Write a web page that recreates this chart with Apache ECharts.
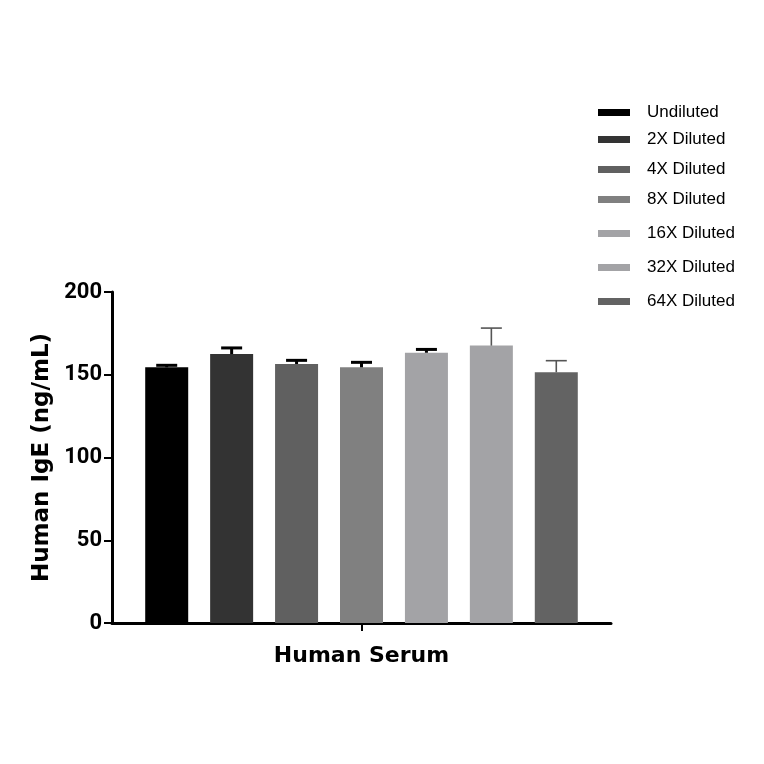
<!DOCTYPE html>
<html><head><meta charset="utf-8">
<script src="https://cdn.jsdelivr.net/npm/echarts@6/dist/echarts.min.js"></script>
<style>html,body{margin:0;padding:0;background:#fff}#c{width:764px;height:764px}</style>
</head><body><div id="c"></div>
<script>
const categories = ['Human Serum'];
const seriesNames = ['Undiluted','2X Diluted','4X Diluted','8X Diluted','16X Diluted','32X Diluted','64X Diluted'];
const means = [154.5, 162.5, 156.5, 154.5, 163.3, 167.6, 151.5];
const errors = [1.2, 3.7, 2.2, 3.0, 2.0, 10.6, 7.0];
const yTicks = [0, 50, 100, 150, 200];
const colors = ['#000000','#333333','#606060','#808080','#a3a3a6','#a3a3a6','#636363'];
const errColors = ['#000','#000','#000','#000','#000','#555','#555'];
const errWidths = [3,3,3,3,3,1.6,1.6];
const legendTops = [99, 126, 156, 186, 220, 254, 288];

const barWidth = 43, barGapRatio = 0.51;
const chart = echarts.init(document.getElementById('c'));
const series = [];
seriesNames.forEach((n,i)=>{
  series.push({name:n,type:'bar',data:[means[i]],barWidth:barWidth,barGap:(barGapRatio*100)+'%',
    itemStyle:{color:colors[i]},z:2});
});
seriesNames.forEach((n,i)=>{
  series.push({type:'custom',z:3,silent:true,
    data:[[0,means[i],errors[i]]],
    renderItem:function(params,api){
      const p0 = api.coord([api.value(0), api.value(1)]);
      const p1 = api.coord([api.value(0), api.value(1)+api.value(2)]);
      const x = p0[0] + (i-3)*barWidth*(1+barGapRatio);
      const half = 10.5;
      const st = {stroke:errColors[i],lineWidth:errWidths[i]};
      return {type:'group',children:[
        {type:'line',shape:{x1:x,y1:p0[1],x2:x,y2:p1[1]},style:st},
        {type:'line',shape:{x1:x-half,y1:p1[1],x2:x+half,y2:p1[1]},style:st}
      ]};
    }});
});
const legends = seriesNames.map((n,i)=>({
  data:[n], orient:'vertical', left:593, top:legendTops[i],
  itemWidth:32, itemHeight:7, icon:'rect', itemGap:0,
  textStyle:{fontFamily:'Liberation Sans',fontSize:17,color:'#000',padding:[0,0,0,12]}
}));
chart.setOption({
  animation:false,
  legend:legends,
  grid:{left:112,right:153,top:292,bottom:141},
  xAxis:{type:'category',data:categories,
    axisLine:{lineStyle:{color:'#000',width:3}},
    axisTick:{show:true,alignWithLabel:true,length:8,lineStyle:{width:2,color:'#000'}},
    axisLabel:{show:true,formatter:()=>''},
    name:categories[0],nameLocation:'middle',nameGap:22,
    nameTextStyle:{fontFamily:'DejaVu Sans',fontWeight:'bold',fontSize:22,color:'#000'}},
  yAxis:{type:'value',min:0,max:200,interval:50,
    axisLine:{show:true,lineStyle:{color:'#000',width:3}},
    axisTick:{show:true,length:8,lineStyle:{width:2,color:'#000'}},
    splitLine:{show:false},
    axisLabel:{fontFamily:'Roboto',fontWeight:'bold',fontSize:22,color:'#000',margin:10,
      formatter:v=>yTicks.includes(v)?String(v):''},
    name:'Human IgE (ng/mL)',nameLocation:'middle',nameGap:58,
    nameTextStyle:{fontFamily:'DejaVu Sans',fontWeight:'bold',fontSize:23,color:'#000'}},
  series:series
});
</script></body></html>
